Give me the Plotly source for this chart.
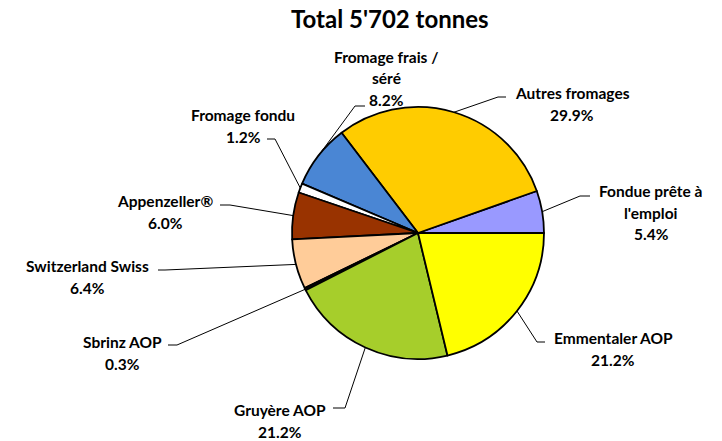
import math
import plotly.graph_objects as go

# ---- data ----
labels = ["Fondue prête à l'emploi", "Autres fromages", "Fromage frais / séré",
          "Fromage fondu", "Appenzeller®", "Switzerland Swiss", "Sbrinz AOP",
          "Gruyère AOP", "Emmentaler AOP"]
label_lines = [["Fondue prête à", "l'emploi"], ["Autres fromages"], ["Fromage frais /", "séré"],
               ["Fromage fondu"], ["Appenzeller®"], ["Switzerland Swiss"], ["Sbrinz AOP"],
               ["Gruyère AOP"], ["Emmentaler AOP"]]
values = [5.4, 29.9, 8.2, 1.2, 6.0, 6.4, 0.3, 21.2, 21.2]
colors = ["#9999FF", "#FFCC00", "#4A86D4", "#FFFFFF", "#993300", "#FFCC99", "#111111",
          "#A6CE2B", "#FFFF00"]
title_text = "Total 5'702 tonnes"

# ---- layout settings (pixels) ----
W, H = 722, 441
CX, CY, R = 418, 233, 126
FONT = "Lato, Arial, sans-serif"
LINE_GAP = 21.5
# label block: (center x, first line y), knee point, end of horizontal segment
label_pos = [
    (651, 191, (580, 196), (590, 196)),
    (572, 93, (498, 97), (506, 97)),
    (386, 57, (355, 106), (365, 106)),
    (243, 115, (275, 139), (267, 139)),
    (165, 201, (230, 205), (220, 205)),
    (87, 266, (165, 270), (158, 270)),
    (122, 342, (177, 345), (168, 345)),
    (280, 410, (345, 408), (333, 408)),
    (613, 338, (537, 342), (545, 342)),
]

def px(x):
    return x / W

def py(y):
    return 1 - y / H

total = sum(values)
# start the first slice at 3 o'clock going counterclockwise
rotation = 90 - 360 * values[0] / total

fig = go.Figure(go.Pie(
    labels=labels, values=values, sort=False, direction="counterclockwise",
    rotation=rotation, textinfo="none", hoverinfo="label+percent",
    marker=dict(colors=colors, line=dict(color="#000000", width=1.8)),
    domain=dict(x=[px(CX - R), px(CX + R)], y=[py(CY + R), py(CY - R)]),
    showlegend=False,
))

cum = 0.0
annotations = []
shapes = []
for lab_lines, v, pos in zip(label_lines, values, label_pos):
    mid = (cum + v / 2) / total * 2 * math.pi
    cum += v
    ex = CX + R * math.cos(mid)
    ey = CY - R * math.sin(mid)
    tx, ty, knee, end = pos
    shapes.append(dict(type="line", xref="paper", yref="paper",
                       x0=px(ex), y0=py(ey), x1=px(knee[0]), y1=py(knee[1]),
                       line=dict(color="black", width=1)))
    shapes.append(dict(type="line", xref="paper", yref="paper",
                       x0=px(knee[0]), y0=py(knee[1]), x1=px(end[0]), y1=py(end[1]),
                       line=dict(color="black", width=1)))
    pct = f"{v:.1f}%"
    lines = lab_lines + [pct]
    for i, t in enumerate(lines):
        annotations.append(dict(x=px(tx), y=py(ty + i * LINE_GAP), xref="paper", yref="paper",
                                text=f"<b>{t}</b>", showarrow=False, xanchor="center",
                                yanchor="middle",
                                font=dict(family=FONT, size=15.5, color="black")))

annotations.append(dict(x=px(390), y=py(18), xref="paper", yref="paper",
                        text=f"<b>{title_text}</b>", showarrow=False, xanchor="center",
                        yanchor="middle", font=dict(family=FONT, size=24, color="black")))

fig.update_layout(width=W, height=H, margin=dict(l=0, r=0, t=0, b=0),
                  paper_bgcolor="white", plot_bgcolor="white",
                  annotations=annotations, shapes=shapes)
fig.write_html("out.html", config={"displayModeBar": False},
               post_script="document.body.style.margin='0';")
